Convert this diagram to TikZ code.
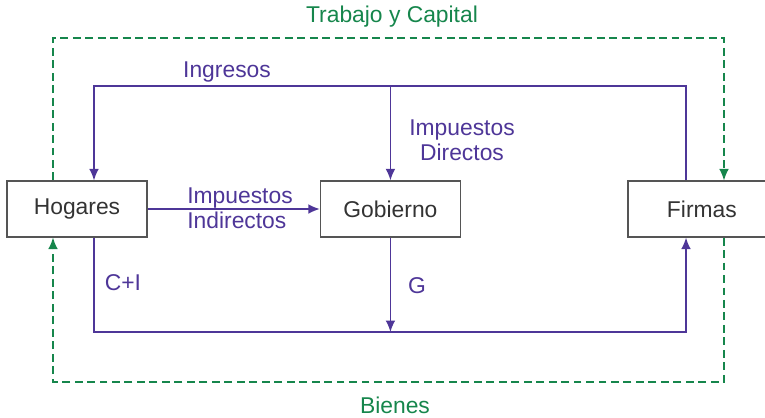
\documentclass[tikz,border=0pt]{standalone}
\usepackage{fontspec}
\setmainfont{Liberation Sans}
\usepackage{tikz}
\usetikzlibrary{arrows.meta}
\definecolor{flujo}{RGB}{78,54,152}
\definecolor{real}{RGB}{22,134,76}
\definecolor{borde}{RGB}{85,85,85}
\tikzstyle{sector} = [rectangle, minimum width=2.8cm, minimum height=1.12cm, text centered, draw=borde, line width=0.7pt, fill=white, text=black!80]
\tikzstyle{money} = [line width=0.85pt, draw=flujo, -{Latex[length=6.5pt,width=5.5pt]}]
\tikzstyle{goods} = [line width=0.8pt, draw=real, dash pattern=on 4.5pt off 2.6pt, -{Latex[length=6.5pt,width=5.5pt]}]
\tikzstyle{tag} = [text=flujo, inner sep=0pt]
\tikzstyle{gtag} = [text=real, inner sep=0pt]

\begin{document}
\begin{tikzpicture}[x=0.02cm, y=-0.02cm, node distance=6.2cm, font=\fontsize{13}{14.5}\selectfont]
      \useasboundingbox (0,0) rectangle (765,417);
      \node (hog) [sector] at (77,209) {Hogares};
      \node (gob) [sector, right of=hog, xshift=0.07cm] {Gobierno};
      \node (fir) [sector, minimum width=2.96cm, right of=gob, xshift=0.03cm] {Firmas};
      % money flows
      \coordinate (hin) at (94,86);
      \coordinate (fin) at (686,86);
      \coordinate (hbot) at (94,332);
      \coordinate (fbot) at (686,332);
      \draw [money] (fir.north -| fin) -- (fin) -- (hin) -- (hog.north -| hin);
      \draw [money] (gob |- fin) -- (gob);
      \draw [money] (hog) -- (gob);
      \draw [money] (hog.south -| hbot) -- (hbot) -- (fbot) -- (fir.south -| fbot);
      \draw [money] (gob) -- (gob |- hbot);
      % real flows
      \coordinate (gtl) at (53,38);
      \coordinate (gtr) at (724,38);
      \coordinate (gbl) at (53,382);
      \coordinate (gbr) at (724,382);
      \draw [goods] (hog.north -| gtl) -- (gtl) -- (gtr) -- (fir.north -| gtr);
      \draw [goods] (fir.south -| gbr) -- (gbr) -- (gbl) -- (hog.south -| gbl);
      % labels
      \node (trab) [gtag] at (392,17) {Trabajo y Capital};
      \node (bien) [gtag] at (395,405) {Bienes};
      \node (ingr) [tag] at (227,72) {Ingresos};
      \node (idir) [tag, align=center] at (462,140) {Impuestos\\Directos};
      \node (iind) [tag, align=left, anchor=west] at (187,208) {Impuestos\\Indirectos};
      \node (cons) [tag] at (123,283) {C+I};
      \node (gast) [tag] at (417,286) {G};
    \end{tikzpicture}
\end{document}
